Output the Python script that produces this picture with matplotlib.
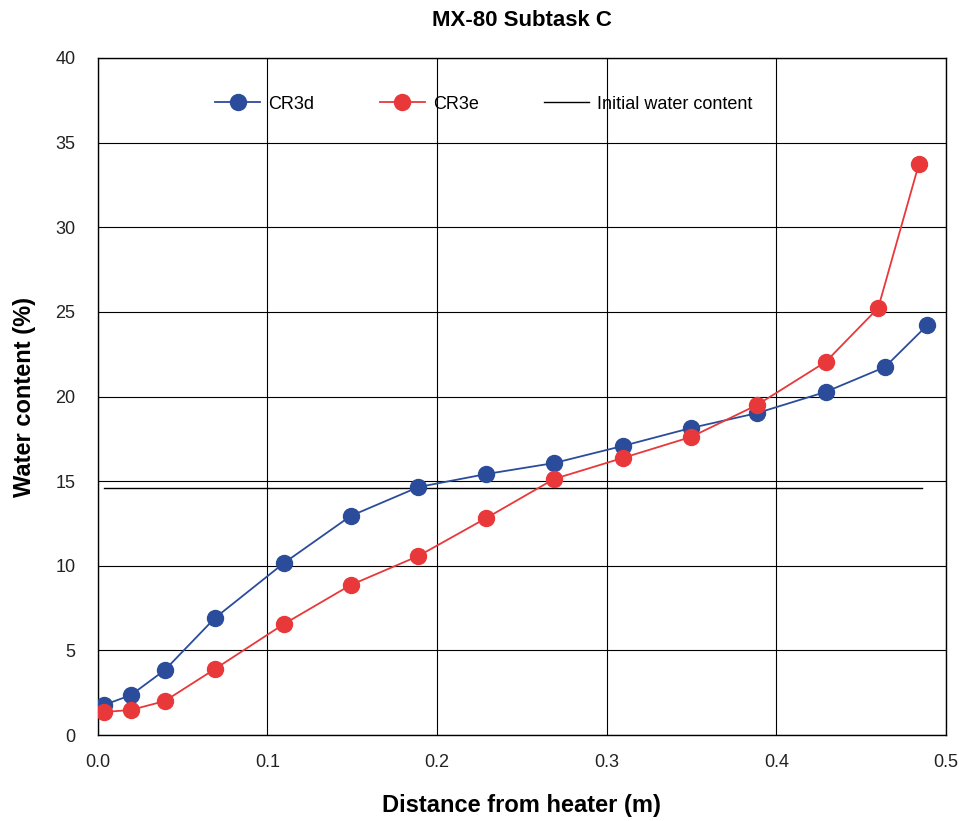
import matplotlib
matplotlib.use("Agg")
import matplotlib.pyplot as plt

plt.rcParams['font.family'] = ['Liberation Sans', 'DejaVu Sans']

# distance from heater (m)
x_cr3d = [0.0035, 0.0195, 0.0395, 0.069, 0.1097, 0.149, 0.189, 0.229, 0.269,
          0.3095, 0.3497, 0.3886, 0.429, 0.464, 0.489]
y_cr3d = [1.77, 2.36, 3.84, 6.91, 10.16, 12.94, 14.65, 15.42, 16.07,
          17.08, 18.14, 19.02, 20.27, 21.74, 24.22]

x_cr3e = [0.0035, 0.0195, 0.0395, 0.069, 0.1097, 0.149, 0.189, 0.229, 0.269,
          0.3095, 0.3497, 0.3886, 0.429, 0.460, 0.484]
y_cr3e = [1.36, 1.48, 2.01, 3.90, 6.56, 8.86, 10.58, 12.82, 15.13,
          16.37, 17.61, 19.50, 22.04, 25.23, 33.74]

# initial water content line
x_init = [0.0035, 0.486]
y_init = [14.6, 14.6]

fig = plt.figure(figsize=(9.59, 8.21), dpi=100)
ax = fig.add_axes([0.102, 0.1047, 0.8845, 0.8247])

ax.plot(x_cr3d, y_cr3d, '-o', color='#2B4C9B', lw=1.3, markersize=11.5,
        label='CR3d', zorder=4)
ax.plot(x_cr3e, y_cr3e, '-o', color='#E8383A', lw=1.3, markersize=11.5,
        label='CR3e', zorder=5)
ax.plot(x_init, y_init, '-', color='black', lw=1.0,
        label='Initial water content', zorder=3)

ax.set_xlim(0, 0.5)
ax.set_ylim(0, 40)
ax.set_xticks([0.0, 0.1, 0.2, 0.3, 0.4, 0.5])
ax.set_xticklabels(['0.0', '0.1', '0.2', '0.3', '0.4', '0.5'])
ax.set_yticks(range(0, 41, 5))
ax.grid(True, color='black', lw=0.8)
ax.set_axisbelow(True)
ax.tick_params(length=0, labelsize=13, colors='#222222')
ax.tick_params(axis='x', pad=14)
ax.tick_params(axis='y', pad=16)
for s in ax.spines.values():
    s.set_linewidth(1.0)

ax.set_xlabel('Distance from heater (m)', fontsize=17, fontweight='bold', labelpad=16)
ax.set_ylabel('Water content (%)', fontsize=17, fontweight='bold', labelpad=14)
ax.set_title('MX-80 Subtask C', fontsize=16, fontweight='bold', pad=23)

ax.legend(loc='center', bbox_to_anchor=(0.455, 0.932), ncol=3, frameon=False,
          fontsize=13, handlelength=2.5, columnspacing=3.6, handletextpad=0.45)

fig.savefig('out.png', dpi=100)
